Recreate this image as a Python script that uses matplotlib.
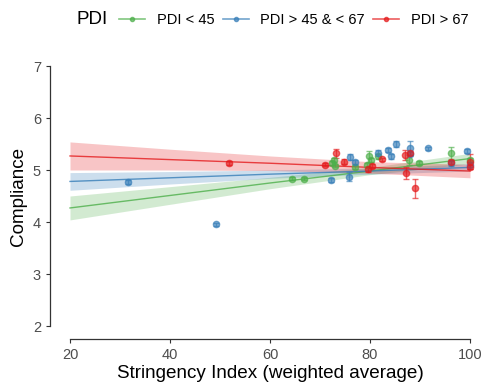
import numpy as np
import matplotlib
matplotlib.use("Agg")
import matplotlib.pyplot as plt
from matplotlib.lines import Line2D

plt.rcParams['font.family'] = ['Liberation Sans', 'DejaVu Sans']

# group labels and colours
groups = ['PDI < 45', 'PDI > 45 & < 67', 'PDI > 67']
colors = ['#4DAF4A', '#377EB8', '#E41A1C']

# country points: stringency index, compliance, error half-width
green_x = [64.3, 66.8, 72.3, 72.8, 73.0, 76.9, 79.3, 79.7, 80.1, 81.5, 87.7, 89.8, 96.2, 100.0]
green_y = [4.83, 4.83, 5.13, 5.20, 5.08, 5.06, 5.10, 5.26, 5.19, 5.26, 5.19, 5.13, 5.33, 5.19]
green_e = [0.03, 0.03, 0.04, 0.04, 0.03, 0.04, 0.04, 0.11, 0.04, 0.04, 0.10, 0.04, 0.12, 0.04]

blue_x = [31.6, 49.2, 72.1, 75.8, 75.9, 76.9, 81.5, 83.5, 84.1, 85.2, 87.9, 87.9, 91.5, 96.2, 99.3, 100.0]
blue_y = [4.77, 3.96, 4.81, 4.87, 5.25, 5.16, 5.32, 5.39, 5.26, 5.50, 5.42, 5.30, 5.42, 5.13, 5.37, 5.10]
blue_e = [0.03, 0.03, 0.04, 0.09, 0.05, 0.04, 0.06, 0.04, 0.04, 0.05, 0.13, 0.04, 0.03, 0.05, 0.04, 0.05]

red_x = [51.7, 71.0, 73.1, 74.7, 79.5, 80.3, 82.3, 87.0, 87.1, 87.9, 89.0, 96.2, 100.0, 100.0]
red_y = [5.13, 5.10, 5.32, 5.16, 5.01, 5.08, 5.21, 5.29, 4.94, 5.32, 4.65, 5.16, 5.16, 5.06]
red_e = [0.04, 0.03, 0.08, 0.05, 0.04, 0.04, 0.03, 0.10, 0.11, 0.04, 0.18, 0.04, 0.14, 0.04]

# fitted lines with confidence band
fit_x = [20, 40, 60, 80, 100]
green_fit = [4.27, 4.51, 4.75, 4.98, 5.22]
green_hw = [0.23, 0.17, 0.11, 0.07, 0.10]
blue_fit = [4.78, 4.85, 4.92, 4.98, 5.05]
blue_hw = [0.17, 0.12, 0.08, 0.06, 0.07]
red_fit = [5.27, 5.20, 5.13, 5.05, 4.98]
red_hw = [0.27, 0.20, 0.14, 0.11, 0.13]

points = [(green_x, green_y, green_e), (blue_x, blue_y, blue_e), (red_x, red_y, red_e)]
fits = [(green_fit, green_hw), (blue_fit, blue_hw), (red_fit, red_hw)]

fig = plt.figure(figsize=(4.83, 3.84), dpi=100)
ax = fig.add_axes([50 / 483, 45 / 384, 440 / 483, 286 / 384])

for (fy, hw), col in zip(fits, colors):
    fy = np.array(fy)
    hw = np.array(hw)
    ax.fill_between(fit_x, fy - hw, fy + hw, color=col, alpha=0.25, lw=0)
    ax.plot(fit_x, fy, color=col, lw=1, alpha=0.8)

for (px, py, pe), col in zip(points, colors):
    ax.errorbar(px, py, yerr=pe, fmt='o', color=col, ms=4.5, alpha=0.65,
                elinewidth=1, capsize=2.5, capthick=1)

ax.set_xlim(16, 104)
ax.set_ylim(1.75, 7.25)
ax.set_xticks([20, 40, 60, 80, 100])
ax.set_yticks([2, 3, 4, 5, 6, 7])
for s in ['top', 'right']:
    ax.spines[s].set_visible(False)
ax.spines['left'].set_bounds(2, 7)
ax.spines['bottom'].set_bounds(20, 100)
for s in ['left', 'bottom']:
    ax.spines[s].set_color('#333333')
    ax.spines[s].set_linewidth(0.9)
ax.tick_params(colors='#333333', labelcolor='#4D4D4D', labelsize=10.5, length=3)
ax.set_xlabel('Stringency Index (weighted average)', fontsize=13.6, labelpad=2)
ax.set_ylabel('Compliance', fontsize=13.6, labelpad=4)

handles = [Line2D([0], [0], color=c, marker='o', ms=3, lw=1.2, alpha=0.7) for c in colors]
fig.text(77 / 483, 1 - 20 / 384, 'PDI', fontsize=13.5, va='center', ha='left')
fig.legend(handles, groups, loc='center left', bbox_to_anchor=(119 / 483, 1 - 20 / 384),
           ncol=3, frameon=False, fontsize=10.5, handlelength=1.8, handletextpad=0.8,
           columnspacing=0.55, borderaxespad=0, borderpad=0)

fig.savefig('out.png', dpi=100)
